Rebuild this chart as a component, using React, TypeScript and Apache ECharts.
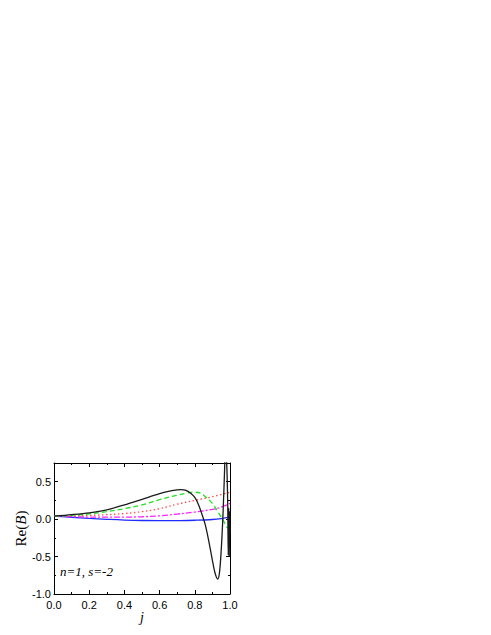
import React, { useEffect, useRef } from "react";
import * as echarts from "echarts";

const blackX = [0, 0.1, 0.2, 0.3, 0.4, 0.5, 0.6, 0.65, 0.7, 0.72, 0.75, 0.78, 0.8, 0.82, 0.84, 0.86, 0.88, 0.9, 0.915, 0.93, 0.94, 0.95, 0.96, 0.967, 0.975, 0.982, 0.987, 0.99, 0.993, 0.996, 0.998, 1.0];
const blackY = [0.04, 0.06, 0.085, 0.125, 0.19, 0.265, 0.34, 0.37, 0.39, 0.395, 0.385, 0.34, 0.29, 0.2, 0.07, -0.08, -0.3, -0.55, -0.72, -0.8, -0.72, -0.42, 0.05, 0.5, 0.95, 0.7, 0.2, -0.48, 0.15, -0.5, 0.1, -0.2];

const greenX = [0, 0.1, 0.2, 0.3, 0.4, 0.5, 0.6, 0.7, 0.75, 0.79, 0.83, 0.86, 0.9, 0.93, 0.96, 0.98, 0.99, 1.0];
const greenY = [0.04, 0.05, 0.07, 0.1, 0.14, 0.19, 0.26, 0.32, 0.345, 0.36, 0.35, 0.3, 0.21, 0.1, -0.01, -0.1, -0.12, -0.06];

const redX = [0, 0.1, 0.2, 0.3, 0.4, 0.5, 0.6, 0.7, 0.8, 0.9, 1.0];
const redY = [0.04, 0.044, 0.05, 0.06, 0.075, 0.1, 0.14, 0.2, 0.25, 0.3, 0.36];

const magentaX = [0, 0.1, 0.2, 0.3, 0.4, 0.5, 0.6, 0.7, 0.8, 0.9, 0.95, 1.0];
const magentaY = [0.04, 0.033, 0.028, 0.026, 0.027, 0.032, 0.045, 0.068, 0.095, 0.13, 0.16, 0.21];

const blueX = [0, 0.1, 0.2, 0.3, 0.4, 0.5, 0.6, 0.7, 0.8, 0.9, 0.95, 1.0];
const blueY = [0.04, 0.025, 0.01, -0.002, -0.012, -0.018, -0.02, -0.019, -0.015, -0.005, 0.008, 0.03];

const xTicks = { min: 0, max: 1, interval: 0.2 };
const yTicks = { min: -1, max: 0.75, interval: 0.5 };
const annotation = "n=1, s=-2";

const pairs = (xs: number[], ys: number[]) => xs.map((x, i) => [x, ys[i]]);

export default function App() {
  const ref = useRef<HTMLDivElement>(null);
  useEffect(() => {
    if (!ref.current) return;
    const chart = echarts.init(ref.current, null, { renderer: "svg" });
    const labelFont = { fontFamily: "Liberation Sans", fontSize: 11, color: "#000" };
    const axisCommon = {
      axisLine: { show: true, onZero: false, lineStyle: { color: "#000", width: 1 } },
      axisTick: { show: true, inside: true, length: 4, lineStyle: { color: "#000" } },
      minorTick: { show: true, splitNumber: 2, length: 2, lineStyle: { color: "#000" } },
      splitLine: { show: false },
    };
    const lineSeries = (name: string, xs: number[], ys: number[], color: string, type: any, smooth = 0.4) => ({
      name,
      type: "line",
      data: pairs(xs, ys),
      showSymbol: false,
      symbol: "none",
      smooth,
      clip: true,
      lineStyle: { color, width: 1.3, type },
    });
    chart.setOption({
      animation: false,
      backgroundColor: "#fff",
      grid: { left: 54, top: 463, width: 176, height: 131 },
      xAxis: [
        {
          type: "value",
          position: "bottom",
          ...xTicks,
          ...axisCommon,
          axisLabel: { ...labelFont, margin: 5, formatter: (v: number) => v.toFixed(1) },
          name: "j",
          nameLocation: "middle",
          nameGap: 5,
          nameTextStyle: { fontFamily: "Liberation Serif", fontStyle: "italic", fontSize: 14, color: "#000" },
        },
        {
          type: "value",
          position: "top",
          ...xTicks,
          ...axisCommon,
          axisLabel: { show: false },
        },
      ],
      yAxis: [
        {
          type: "value",
          position: "left",
          ...yTicks,
          ...axisCommon,
          axisLabel: { ...labelFont, margin: 3, showMaxLabel: false, formatter: (v: number) => v.toFixed(1) },
          name: "Re({i|B})",
          nameLocation: "middle",
          nameRotate: 90,
          nameGap: 24,
          nameTextStyle: {
            fontFamily: "Liberation Serif",
            fontSize: 15,
            color: "#000",
            rich: { i: { fontFamily: "Liberation Serif", fontStyle: "italic", fontSize: 15, color: "#000" } },
          },
        },
        {
          type: "value",
          position: "right",
          ...yTicks,
          ...axisCommon,
          axisLabel: { show: false },
        },
      ],
      graphic: [
        {
          type: "text",
          left: 60,
          top: 565,
          style: { text: annotation, font: 'italic 13px "Liberation Serif"', fill: "#000" },
        },
      ],
      series: [
        lineSeries("blue", blueX, blueY, "#1f2bff", "solid"),
        lineSeries("magenta", magentaX, magentaY, "#ff22ff", [6, 2, 2, 2]),
        lineSeries("red", redX, redY, "#ff4a4a", [1.5, 2.5]),
        lineSeries("green", greenX, greenY, "#22e022", [5, 3]),
        lineSeries("black", blackX, blackY, "#1a1a1a", "solid", 0.3),
      ],
    });
    return () => chart.dispose();
  }, []);
  return <div ref={ref} style={{ position: "absolute", left: 0, top: 0, width: 491, height: 635 }} />;
}
